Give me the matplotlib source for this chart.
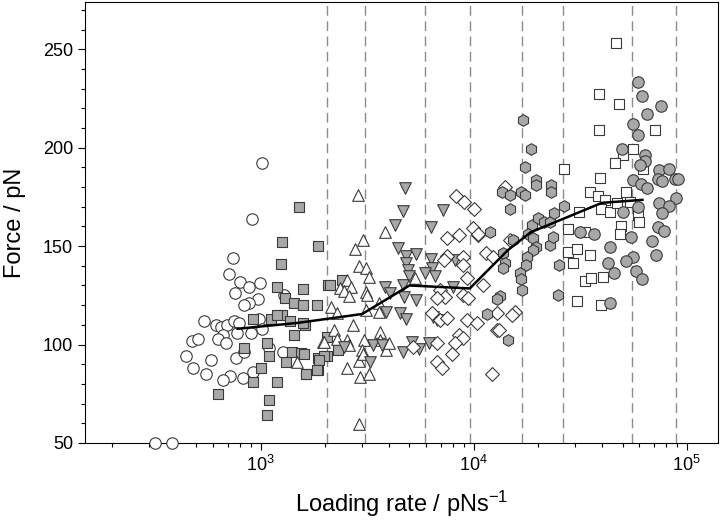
import matplotlib
matplotlib.use("Agg")
import matplotlib.pyplot as plt
from matplotlib.ticker import MultipleLocator, LogLocator

plt.rcParams['font.family'] = ['Liberation Sans', 'DejaVu Sans']
plt.rcParams['mathtext.default'] = 'regular'

# open circles
circ_open_x = [1020, 910, 740, 710, 800, 880, 995, 755, 970, 880, 835, 1290, 540, 615, 650, 698, 750, 790, 983, 1018,
               898, 778, 668, 631, 479, 510, 685, 446, 585, 764, 835, 1094, 1277, 484, 552, 718, 668, 826, 925, 320, 385]
circ_open_y = [192, 164, 144, 136, 132, 129, 131, 126, 123, 121, 120, 125, 112, 110, 109, 110, 112, 111, 113, 108,
               106, 106, 105, 103, 102, 103, 101, 94, 92, 93, 96, 98, 96, 88, 85, 84, 82, 83, 86, 50, 50]

# grey squares
sq_gray_x = [1523, 1264, 1862, 1254, 1197, 1578, 2075, 1309, 1443, 1578, 1849, 921, 1114, 1264, 1197, 1371, 1614, 1432,
             1074, 835, 1099, 1412, 1552, 1315, 1862, 2053, 1008, 1642, 1854, 926, 1197, 635, 1090, 1074, 2060, 2113,
             2415, 1590, 2312, 1978, 1876, 1846, 1641, 1597]
sq_gray_y = [170, 152, 150, 141, 129, 128, 130, 123.5, 121, 120, 120, 113, 113, 115, 115, 112, 110, 105, 100.6, 98,
             94, 96, 95.5, 91, 93, 94, 88, 85, 87, 81, 81, 75, 72, 64, 104, 130, 133, 111, 97, 94, 92, 87, 85, 95]

# open triangles
tri_open_x = [2870, 3016, 2767, 3845, 2886, 3126, 3236, 2546, 2370, 2667, 2456, 2602, 3142, 3162, 2152, 2287, 3126,
              3582, 3582, 2705, 2204, 3648, 1968, 2287, 2546, 3048, 3648, 2594, 3005, 3892, 2899, 3025, 2546, 2919,
              3214, 2886, 3990, 5321, 1978, 1486]
tri_open_y = [176, 153, 148.5, 157, 140, 138.7, 134.4, 133, 128.5, 129.3, 127.2, 124.6, 126.8, 125, 119, 115.8, 117.5,
              121, 116.7, 110, 107.4, 106.5, 101.4, 103, 102.3, 102.3, 102.3, 99.7, 97.2, 97.2, 91.8, 95.2, 88, 83.7,
              85, 59.6, 100.6, 133.6, 101.4, 91.3]

# grey down triangles
tri_gray_x = [4775, 4656, 7160, 4285, 6310, 4394, 4830, 5380, 6310, 4800, 4900, 4977, 6350, 5930, 6600, 8040, 8180,
              3820, 4030, 4656, 4722, 5380, 3892, 4534, 4830, 6430, 6710, 2456, 3388, 3715, 3273, 4656, 5130, 5570, 6180]
tri_gray_y = [179.6, 167.8, 168.6, 160.7, 159.8, 148.8, 144.9, 145.9, 143.7, 141.2, 138.1, 134.8, 138.7, 136.1, 134.8,
              129.3, 143, 129.3, 126, 130.2, 124.3, 122.6, 116.7, 115.8, 112.8, 114.2, 112.4, 98.9, 99.7, 99.7, 91.3,
              96, 101.4, 97.6, 100.9]

# open diamonds
dia_open_x = [8280, 9020, 10090, 9910, 10450, 7480, 8570, 11460, 12390, 7480, 7290, 8950, 8900, 9290, 11120, 6970,
              7350, 6710, 8950, 9450, 6350, 6970, 7480, 9290, 10350, 12850, 8500, 8900, 8180, 6760, 5175, 7960, 6760,
              7080, 12160, 10430, 14060, 14830, 12850, 15630, 13100, 15070]
dia_open_y = [175.4, 172.2, 169.1, 159.3, 155.6, 154.2, 155.6, 146.3, 144.6, 144.9, 142.9, 144.6, 140.4, 133.6, 130.2,
              127.7, 124.3, 123.5, 125.1, 123.5, 115.8, 112.4, 113.3, 112.4, 110.8, 107.4, 104.8, 103.1, 100.6, 100.9,
              98.9, 95.2, 91.3, 87.9, 85, 156.4, 180.1, 153, 115.8, 116.7, 107.4, 115]

# grey hexagons
hex_gray_x = [17100, 18580, 17420, 19540, 19540, 23000, 23000, 13560, 14830, 16640, 17420, 14830, 26540, 11940, 18700,
              20090, 21380, 22800, 23820, 18060, 19060, 15350, 19600, 19060, 22800, 23660, 13770, 14060, 13770, 17740,
              17620, 16520, 16640, 16950, 25230, 24950, 13300, 12850, 11540, 14450]
hex_gray_y = [214.3, 199.2, 190.3, 183.5, 181, 181.3, 177.3, 177.3, 175.9, 177.3, 176.2, 169.1, 170.5, 157.3, 160.7,
              164.1, 162, 162.4, 166.6, 156.4, 153.9, 153, 149.6, 148, 150.5, 154.4, 146.3, 141.2, 138.7, 144.6,
              140.4, 136.5, 133.1, 127.7, 140.4, 125.1, 124.6, 123, 115.3, 102.3]

# open squares
sq_open_x = [46450, 38970, 47860, 38970, 71260, 26540, 39170, 50350, 56080, 46000, 62520, 35160, 38440, 41300, 52150,
             39810, 43550, 46880, 54080, 59190, 59570, 31120, 27590, 33500, 48980, 48530, 27590, 30410, 35160, 29170,
             33270, 35730, 40550, 30690, 39450]
sq_open_y = [253.4, 227.5, 222.4, 209.2, 209.2, 189.3, 184.4, 196.2, 199.6, 192.3, 189.4, 177.3, 175.4, 173.4, 177.3,
             169.1, 167.1, 172, 172.5, 165.7, 162, 167.4, 158.5, 157.3, 160.3, 156.4, 147.1, 148.3, 145.4, 141.2,
             132.2, 133.6, 134.4, 122.2, 120]

# grey circles
circ_gray_x = [59160, 61720, 75640, 65310, 56080, 59160, 49790, 63970, 63540, 60260, 74170, 82550, 73420, 76870, 88470,
               91000, 56080, 61330, 64770, 89400, 73950, 82400, 76870, 59160, 50350, 73420, 77980, 54500, 68390, 56080,
               52150, 71450, 43550, 42760, 45500, 58090, 61720, 43550, 31550, 36650]
circ_gray_y = [233.4, 226.3, 221.2, 217.3, 212.3, 206.3, 199.6, 196.2, 193.1, 191.1, 188.6, 189.4, 184, 183.1, 184,
               184, 183.5, 181.8, 179.3, 174.2, 171.7, 170.5, 166.6, 170, 167.1, 159.5, 157.5, 154.4, 152.5, 144.3,
               142.6, 145.4, 149.3, 141.2, 136.1, 137.4, 133.2, 120.9, 157.3, 156.4]

# mean line
line_x = [780, 1500, 3000, 5000, 9600, 14500, 18500, 40000, 62000]
line_y = [108, 111, 115.5, 130, 128.5, 148, 157, 172, 173.5]

# bin borders
bin_edges = [2040, 3100, 5930, 9640, 16900, 26200, 55200, 88700]

fig = plt.figure(figsize=(7.2, 5.26), dpi=100)
ax = fig.add_axes([0.118, 0.158, 0.879, 0.838])

for b in bin_edges:
    ax.axvline(b, color='#8c8c8c', lw=1.0, ls=(0, (7, 4)), zorder=1)

grey = '#a8a8a8'
edge = '#3a3a3a'
kw = dict(edgecolors=edge, linewidths=0.8, zorder=3)
ax.scatter(circ_open_x, circ_open_y, s=68, marker='o', facecolors='white', clip_on=False, **kw)
ax.scatter(sq_gray_x, sq_gray_y, s=52, marker='s', facecolors=grey, **kw)
ax.scatter(tri_open_x, tri_open_y, s=70, marker='^', facecolors='white', **kw)
ax.scatter(tri_gray_x, tri_gray_y, s=70, marker='v', facecolors=grey, **kw)
ax.scatter(dia_open_x, dia_open_y, s=50, marker='D', facecolors='white', **kw)
ax.scatter(hex_gray_x, hex_gray_y, s=70, marker='h', facecolors=grey, **kw)
ax.scatter(sq_open_x, sq_open_y, s=52, marker='s', facecolors='white', **kw)
ax.scatter(circ_gray_x, circ_gray_y, s=68, marker='o', facecolors=grey, **kw)

ax.plot(line_x, line_y, color='black', lw=1.8, zorder=4)

ax.set_xscale('log')
ax.set_xlim(150, 140000)
ax.set_ylim(50, 274)
ax.set_yticks([50, 100, 150, 200, 250])
ax.yaxis.set_minor_locator(MultipleLocator(10))
ax.xaxis.set_major_locator(LogLocator(base=10, numticks=10))

ax.tick_params(which='major', direction='out', length=5, width=0.8, labelsize=13)
ax.tick_params(which='minor', direction='out', length=3, width=0.8)
for s in ax.spines.values():
    s.set_linewidth(0.8)

ax.set_xlabel('Loading rate / pNs$^{-1}$', fontsize=17, labelpad=10)
ax.set_ylabel('Force / pN', fontsize=17, labelpad=12)

fig.savefig('out.png', dpi=100)
